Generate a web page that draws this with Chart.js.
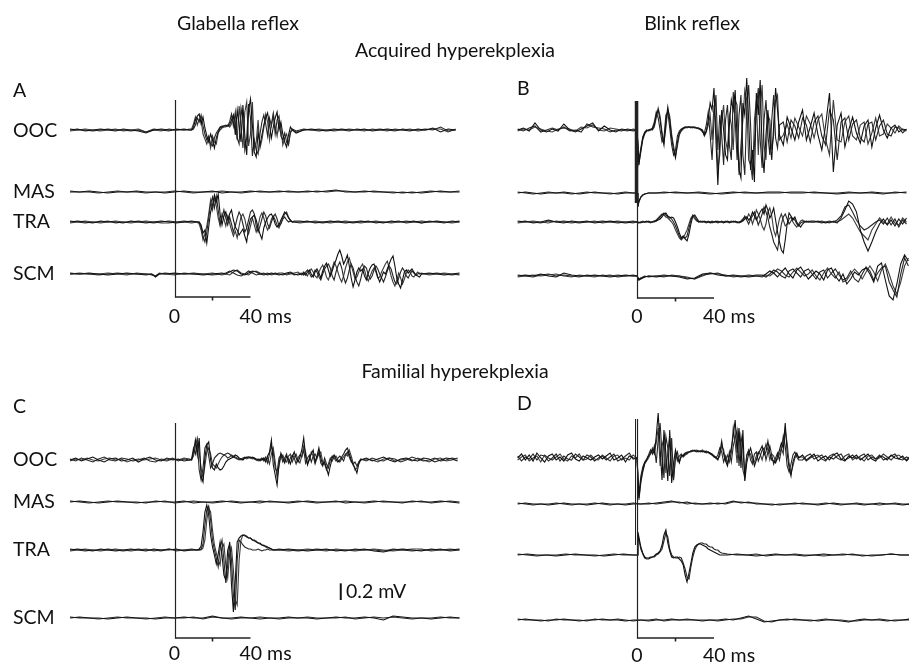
<!DOCTYPE html>
<html>
<head>
<meta charset="utf-8">
<script src="https://cdn.jsdelivr.net/npm/chart.js@4"></script>
<style>
html, body { margin: 0; padding: 0; background: #fff; }
#wrap { position: relative; width: 909px; height: 669px; overflow: hidden; background: #fff; }
canvas, svg { position: absolute; left: 0; top: 0; }
text { font-family: Lato, 'Open Sans', sans-serif; font-size: 19.5px; fill: #111; }
</style>
</head>
<body>
<div id="wrap">
  <canvas id="pA" width="909" height="669"></canvas>
  <canvas id="pB" width="909" height="669"></canvas>
  <canvas id="pC" width="909" height="669"></canvas>
  <canvas id="pD" width="909" height="669"></canvas>
  <svg id="labels" width="909" height="669"></svg>
</div>
<script>
// vertical gain of the traces: 12 µV per pixel (0.2 mV ~ 17 px)
const UV_PER_PX = 12;

// sample times (ms), regular within each segment
function seg(a, b, step) {
  const out = [];
  for (let t = a; t <= b + 1e-9; t += step) out.push(t);
  return out;
}

// ---------- A: glabella reflex, acquired (values in µV, 3 sweeps) ----------
const tA_ooc = [...seg(-55, 5, 4), 8, ...seg(9, 62, 1), ...seg(64, 148, 4)];
const A_OOC = [
  [0,12,-12,0,12,0,-12,12,0,-12,-36,0,12,0,0,12,0,
   0,36,120,168,192,72,156,24,-72,-144,-48,-120,-216,-96,-24,24,36,48,48,48,60,120,180,-60,240,60,-144,300,-60,-300,240,372,60,-264,-324,-24,-180,-60,60,144,204,60,-96,36,144,216,0,96,-48,-144,-204,-60,36,0,
   -36,0,12,0,-12,0,12,0,0,12,-12,0,12,0,0,-12,12,0,24,-24,12,0],
  [12,0,0,-12,0,12,0,0,-12,0,-24,12,0,-12,12,0,0,
   0,12,60,144,96,180,48,-48,-120,-72,-168,-192,-96,-36,0,36,48,48,60,48,96,192,48,216,-96,-168,264,120,-240,-96,312,144,-312,-120,-240,-288,-48,96,180,72,-72,144,48,180,-48,120,168,-72,-120,-36,-144,-180,-24,12,
   -12,12,0,-12,0,12,0,-12,12,0,0,12,0,-12,12,0,0,12,0,36,-12,0],
  [-12,0,12,0,-12,0,12,-12,0,12,-24,0,-12,12,0,0,12,
   12,72,156,60,132,120,-48,-108,-168,-96,-216,-72,-144,-168,-36,0,24,36,36,60,36,72,168,96,-120,288,48,-216,216,336,-192,-48,336,-216,-144,120,-216,-120,24,192,96,-120,72,204,48,-72,96,24,-180,-96,-48,-168,-36,0,
   -24,0,0,12,0,-12,0,12,0,-12,12,0,-12,12,0,12,-12,0,12,12,-24,12]
];
const tA_mas = seg(-55, 150, 5);
const A_MAS = [
  [0,0,12,0,-12,0,0,12,0,0,-12,0,12,0,0,12,-12,0,0,12,0,0,12,0,0,12,0,12,24,0,0,12,0,0,0,-12,0,-12,0,12,0,0],
  [12,0,0,-12,0,12,0,0,-12,0,0,12,0,-12,0,0,12,0,-12,0,12,0,0,12,0,0,12,0,12,12,0,0,12,0,-12,0,-12,0,12,0,0,12]
];
const tA_tra = [...seg(-55, 9, 4), 12, ...seg(13, 63, 1), ...seg(66, 150, 4)];
const A_TRA = [
  [0,12,0,-12,12,0,0,-12,12,0,-12,0,12,0,-12,0,12,0,
   0,-36,-132,-96,-252,-60,120,204,324,240,336,96,-36,72,120,24,96,144,24,-60,-96,-156,-120,-84,-168,-240,-60,36,60,84,24,-72,-144,-204,-72,0,48,84,96,48,-24,-60,-36,24,72,120,96,48,24,0,0,
   0,12,-12,0,12,0,-12,0,12,0,0,-12,12,0,0,12,-12,0,12,0,0,12],
  [12,0,-12,0,0,12,-12,0,0,12,0,-12,0,12,0,12,0,0,
   0,-60,-168,-240,-120,48,216,300,168,312,144,-24,48,144,48,-36,60,-24,-120,-48,48,120,72,-24,-120,-72,24,120,144,96,-48,-120,-48,36,120,72,-24,-72,0,60,96,36,-48,-24,36,60,24,0,12,0,12,
   12,0,0,-12,0,12,0,-12,0,12,-12,0,0,12,-12,0,12,0,0,-12,12,0],
  [-12,0,12,0,-12,0,12,0,-12,0,12,0,-12,-12,0,0,-12,0,
   -24,-96,-216,-144,-48,96,264,144,288,192,48,-48,96,36,-48,72,-12,-96,-168,-108,-192,-48,60,96,36,-72,-144,-48,48,-36,-120,-48,60,108,48,-36,-96,-48,36,72,24,-36,-72,-12,48,96,120,60,12,0,0,
   -12,0,12,0,-12,0,12,0,-12,0,12,0,-12,0,12,0,-12,12,0,0,-12,0]
];
const tA_scm = [-55,-50,-45,-40,-35,-30,-25,-20,-15,-12,-10,-8,-5,0,5,10,15,20,25,
  ...seg(27, 65, 2), ...seg(67, 130, 1), ...seg(134, 150, 4)];
const A_SCM = [
  [0,0,12,0,-12,0,12,0,0,0,-36,0,0,12,0,0,-12,0,12,
   0,24,48,36,0,-12,12,36,24,0,-12,0,12,0,-12,0,12,24,0,-12,
   0,12,-12,24,48,0,-36,24,60,12,-48,36,96,132,48,-24,36,108,168,240,288,216,120,168,228,96,-48,-156,-72,24,72,36,60,-24,-72,12,72,108,120,48,-36,-96,-36,24,0,60,120,180,216,96,-48,-120,-168,-72,24,48,12,36,60,24,-12,-24,-36,0,
   12,0,-12,0,12],
  [12,0,0,-12,0,12,0,0,-12,0,-24,0,12,0,0,12,0,-12,0,
   12,36,12,-12,-24,0,36,12,-12,0,12,-12,0,12,0,-12,0,12,-12,0,
   12,-12,24,48,12,-36,-12,48,24,-36,-72,0,60,96,120,72,-24,-72,24,96,144,72,-36,-108,-48,48,120,72,-24,-96,-144,-60,36,96,72,-12,-60,-24,48,96,60,0,-48,-96,-36,36,96,60,-24,-96,-120,-48,24,72,36,-24,-48,0,36,12,-12,0,12,0,
   0,12,0,-12,0],
  [0,12,0,0,12,0,-12,12,0,-12,-24,12,0,-12,12,0,0,12,-12,
   0,-12,24,48,12,0,-12,24,36,12,0,12,-12,0,12,12,-12,0,12,24,
   -12,24,0,-24,36,60,24,-24,-48,24,72,108,48,-36,-72,0,72,144,96,24,-48,-96,-24,72,144,192,108,24,-60,-36,24,84,120,48,-36,-84,-24,36,72,24,-48,-36,24,72,120,156,72,-24,-96,-144,-72,12,-48,-120,-60,12,48,24,-24,-36,0,24,0,12,
   -12,0,12,0,-12]
];

// ---------- B: blink reflex, acquired ----------
const tB_ooc = [...seg(-62, -2, 3), 0, ...seg(1, 74, 1), ...seg(76, 140, 2)];
const B_OOC = [
  [0,24,-12,84,0,-24,12,-12,72,0,-24,12,48,84,-12,48,0,-24,12,0,-12, 0,
   -420,-240,-96,-36,-12,0,0,12,60,180,240,120,-60,-180,96,276,120,-96,-240,-336,-144,-36,0,24,36,36,36,36,36,24,24,24,12,0,-60,-12,120,324,240,504,-120,-660,-120,240,0,-300,-360,60,360,240,480,-120,-480,-576,324,180,624,120,-480,-240,-624,444,180,600,-240,-516,-60,240,-120,-360,60,504,240,-60,
   -180,156,24,-120,96,240,-120,36,204,-60,-240,60,444,-504,60,204,-204,0,156,-36,-156,48,120,-204,24,180,0,-96,24,60,-24,12,0],
  [12,-12,24,48,-24,0,24,0,36,-12,0,-24,72,36,24,12,-24,0,-12,12,0, 0,
   -360,-216,-84,-24,0,-12,0,24,96,216,144,0,-144,-96,180,216,24,-180,-300,-240,-72,-12,12,24,24,36,36,24,36,36,24,12,12,-24,-36,60,216,-60,-360,120,420,-240,180,-60,-420,120,300,-180,-360,456,120,-360,180,420,-300,-540,240,540,60,-540,-180,240,504,-120,-456,120,360,-60,-300,120,420,-96,-216,60,
   96,-144,120,48,-96,144,60,-144,96,168,-72,-180,240,120,-360,96,144,-120,72,120,-96,-144,72,96,-120,48,120,-48,-72,36,24,-36,12],
  [-12,12,0,36,12,-12,-24,12,24,12,-12,36,24,60,0,-12,24,12,0,-12,12, 0,
   -396,-264,-120,-48,-12,0,12,0,36,144,264,168,-24,-144,24,240,168,-48,-192,-312,-192,-60,-12,12,36,24,36,36,24,36,24,24,0,-12,-72,-24,60,180,-120,300,60,-480,-300,120,300,-120,-240,180,60,-240,360,300,-540,-180,120,480,360,-360,-420,-600,120,360,-300,240,540,-180,-360,180,120,-240,-60,360,420,-120,
   -60,72,-96,144,36,-72,168,72,-96,120,192,-120,-300,360,-120,-144,96,168,-72,-120,60,96,-168,-36,144,-72,-48,72,24,-36,48,0,-12]
];
const tB_mas = [...seg(-62, -2, 4), 0, 0.5, 1, 2, 3, 4, 6, 8, 10, ...seg(14, 140, 6)];
const B_MAS = [
  [0,12,0,-12,0,0,12,0,-12,0,12,0,0,-12,0,0,
   0,-168,-108,-48,-24,-12,0,0,0,
   0,12,0,0,-12,0,12,0,0,12,12,0,0,12,0,-12,0,0,12,0,0,12],
  [12,0,-12,0,12,0,0,-12,0,12,0,0,-12,0,12,0,
   0,-156,-96,-48,-24,-12,0,0,0,
   12,0,0,12,0,-12,0,12,0,0,0,12,12,0,0,0,12,0,0,-12,12,0]
];
const tB_tra = [...seg(-62, -2, 4), 0, ...seg(1, 90, 1), ...seg(92, 140, 2)];
const B_TRA = [
  [0,12,-12,0,24,0,-12,12,0,12,-12,0,12,0,-12,0, 0,
   -12,0,0,0,12,0,0,0,12,12,24,36,60,96,108,72,48,60,48,0,-60,-132,-192,-168,-204,-228,-144,-24,72,84,48,12,0,0,12,0,0,-12,0,0,12,0,0,0,-12,0,12,0,0,0,12,0,-12,0,12,36,60,24,48,120,72,24,72,120,156,96,204,144,48,96,168,24,-120,-240,-336,-372,-216,-24,108,72,24,60,0,-36,-60,-24,0,12,0,0,
   0,12,0,-12,0,0,-12,48,144,252,216,120,-96,-240,-348,-240,-120,-24,36,-36,24,-48,36,-24,48],
  [12,0,0,-12,12,0,12,0,-12,0,0,12,0,-12,0,12, 0,
   0,-12,0,0,0,12,0,0,0,12,36,60,84,108,84,60,60,36,0,-48,-108,-168,-204,-180,-192,-168,-72,24,84,60,24,0,12,0,0,-12,0,0,12,0,0,-12,0,12,0,0,0,-12,0,12,0,0,0,12,36,60,24,-24,36,72,120,48,-36,24,96,180,120,48,-60,-144,-240,-288,-336,-180,-24,60,96,36,-24,12,48,24,-24,-48,-12,0,12,0,0,12,
   12,0,-12,0,12,0,24,72,180,204,120,24,-48,-96,-72,-36,0,24,-24,48,-36,36,-60,24,-24],
  [-12,0,12,0,-12,12,0,-12,0,0,12,-12,0,12,0,-12, 0,
   -12,0,12,0,0,0,-12,0,12,24,48,72,96,84,60,48,24,0,-36,-96,-144,-192,-216,-192,-144,-96,-24,48,72,36,12,0,0,12,0,0,12,0,-12,0,0,12,0,0,0,12,0,0,12,0,0,-12,0,0,24,72,36,96,60,-24,48,144,96,36,-48,-96,-24,120,168,72,-96,-168,-72,36,96,24,-48,-24,36,60,0,-36,-60,-24,12,24,0,0,12,0,
   0,0,12,0,-12,12,0,24,60,96,48,-36,-120,-168,-216,-96,-24,48,0,-24,60,-12,-36,48,0]
];
const tB_scm = [...seg(-62, -2, 4), 0, 1, 2, 4, ...seg(6, 62, 4), ...seg(65, 141, 2)];
const B_SCM = [
  [0,12,0,24,0,-12,36,12,0,0,12,0,-12,0,12,0,
   0,-48,-36,-12,
   0,-12,0,0,-12,-36,-24,24,36,12,0,12,0,-12,0,
   0,24,60,36,-12,48,96,24,-24,72,108,36,-36,12,60,24,-48,72,96,0,-60,24,-96,-36,48,12,72,96,24,-72,120,156,-48,-240,-288,-96,144,252,180],
  [12,0,-12,12,24,0,12,0,-12,12,0,0,12,-12,0,12,
   0,-36,-24,0,
   -12,0,12,0,0,-24,-36,12,24,36,0,0,-12,0,12,
   12,-12,24,72,48,0,-24,60,84,36,-12,60,84,24,-36,48,72,-24,36,84,12,-48,-24,60,-36,-72,24,108,60,-48,36,96,120,-72,-168,-252,24,216,120],
  [-12,0,12,0,12,24,0,-12,12,0,-12,12,0,12,0,0,
   0,-48,-24,-12,
   0,0,-12,12,0,-12,-36,0,36,24,12,-12,0,12,0,
   -12,12,0,36,84,60,12,-12,48,96,48,0,24,72,0,-48,36,96,24,-24,48,-72,-48,24,84,36,-36,48,120,48,-60,72,144,24,-120,-216,-72,120,216]
];

// ---------- C: glabella reflex, familial ----------
const tC_ooc = [...seg(-55, 8, 3), ...seg(9, 98, 1), ...seg(101, 149, 3)];
const C_OOC = [
  [0,24,-12,12,36,0,-24,12,24,-12,0,24,-24,12,36,0,-12,24,0,12,-12,0,
   0,96,240,60,264,-204,-264,24,180,216,0,-96,-120,-48,-96,-120,-108,-72,-24,0,12,24,36,60,48,24,12,0,24,36,36,24,36,24,12,0,12,0,24,-24,48,96,240,-60,-180,-300,-48,84,24,-36,48,12,-48,36,96,24,-24,36,120,264,48,-60,24,72,120,-24,48,144,24,-60,-24,-96,-180,-72,24,60,12,-24,0,36,72,120,144,72,0,-60,-96,-156,-48,0,
   24,-12,12,36,0,-24,12,24,0,-12,24,12,-24,0,24,12,-12],
  [12,-12,24,0,-24,12,36,0,-12,24,12,-12,0,24,-12,-24,12,0,24,-12,12,0,
   12,144,72,216,-120,-240,-96,144,192,48,-96,-48,24,48,72,84,72,60,72,84,72,48,36,24,12,0,12,24,36,24,36,36,24,12,0,12,-12,12,0,36,-36,72,168,96,-96,-144,24,60,-24,24,72,-36,24,60,24,-48,24,60,36,120,-36,24,60,-24,48,72,24,96,-36,-72,24,-48,-96,0,48,24,-12,24,48,24,-12,60,96,36,-24,-48,-24,-72,-24,12,
   -12,24,0,-12,24,12,-24,0,36,12,-12,0,24,-12,0,24,12],
  [-12,12,0,24,0,-12,12,24,0,12,-24,0,12,0,12,24,0,-12,12,0,24,12,
   0,48,168,264,96,-96,-216,-72,96,144,72,-48,-72,-96,-48,0,36,60,48,24,36,60,48,36,24,12,0,12,24,12,24,24,12,24,0,-12,0,24,-12,12,24,-48,72,144,-24,-216,-72,36,60,0,-24,48,72,-24,36,72,0,-36,48,168,96,-48,0,96,48,-48,24,72,96,-24,-48,-120,-48,24,-12,36,48,0,-24,12,36,72,48,120,48,-36,-120,-96,-24,0,
   12,0,-24,12,24,-12,0,12,-12,24,0,-24,12,24,-12,0,24]
];
const tC_mas = seg(-55, 150, 5);
const C_MAS = [
  [0,12,0,-12,0,12,0,0,-12,12,0,0,12,-12,0,0,12,0,-12,0,12,0,0,-12,0,12,0,0,12,-12,0,0,12,0,0,-12,12,0,0,12,0,-12],
  [12,0,-12,0,12,0,0,-12,0,0,12,-12,0,12,0,-12,0,12,0,0,-12,12,0,0,12,0,-12,0,0,12,0,-12,0,12,0,0,0,12,-12,0,12,0]
];
const tC_tra = [...seg(-55, 9, 4), ...seg(12, 52, 1), ...seg(55, 150, 5)];
const C_TRA = [
  [0,12,0,-12,12,0,-12,0,12,0,-12,12,0,0,12,-12,0,
   0,12,48,216,456,540,420,180,36,-60,-168,-48,96,-60,-300,-360,0,72,-420,-744,-360,96,144,168,180,180,156,144,144,120,120,96,84,84,60,48,48,36,24,12,0,
   0,12,0,-12,0,12,-12,0,0,12,-12,-24,0,12,0,-12,12,0,0,12],
  [12,0,-12,0,0,12,0,-12,0,12,0,0,-12,12,0,0,12,
   0,0,12,72,300,480,528,360,120,0,-96,-204,24,120,-120,-396,-180,96,-120,-540,-720,-120,120,96,60,36,24,12,12,0,0,0,12,0,-12,0,0,12,0,0,0,
   12,0,-12,0,12,0,0,-12,12,0,0,-12,12,0,-12,0,0,12,-12,0],
  [-12,0,12,0,-12,0,12,0,-12,0,12,-12,0,12,-12,0,0,
   0,0,0,24,120,360,504,456,240,60,-36,-120,-180,24,72,-180,-336,-60,24,-240,-600,-660,-120,120,180,168,168,144,144,120,108,108,84,72,60,60,36,24,24,12,0,
   0,-12,0,12,0,-12,12,0,-12,0,12,0,-12,0,12,12,-12,0,12,0]
];
const tC_scm = seg(-55, 150, 5);
const C_SCM = [
  [0,12,0,0,-12,0,12,0,0,-12,0,0,12,0,0,24,0,0,12,0,-12,0,0,12,0,0,-12,0,12,0,0,12,0,-24,24,12,0,0,-12,0,12,0],
  [12,0,0,-12,0,12,0,0,-12,0,12,0,0,12,-12,12,0,-12,0,0,12,0,-12,0,0,12,0,0,0,12,-12,0,12,0,12,0,-12,0,0,12,0,0]
];

// ---------- D: blink reflex, familial ----------
const tD_ooc = [...seg(-62, -2, 2), 0, ...seg(1, 84, 1), ...seg(86, 142, 2)];
const D_OOC = [
  [0,48,-24,36,-36,60,0,-48,24,48,-24,12,-36,36,60,-12,-36,24,0,-24,12,36,-12,24,60,-24,0,36,-48,24,0, 0,
   -480,-264,-144,-60,-24,24,60,96,48,264,540,120,-264,336,60,-276,336,-300,-60,96,0,-60,36,24,48,60,72,84,84,84,72,84,84,72,84,72,72,60,48,24,0,-24,60,204,48,-36,-96,24,120,264,456,60,360,-120,336,-276,-60,48,120,24,-96,-24,48,96,144,36,72,204,60,-24,-36,-60,24,96,180,120,420,60,-120,-216,-48,24,60,0,
   36,-24,12,48,-36,0,24,-24,36,60,-12,-36,24,0,36,-24,12,48,-12,-36,24,12,-24,36,0,-12,24,-36,12],
  [24,-36,12,-12,48,-24,36,24,-36,0,48,-36,24,-12,-24,48,12,-24,36,12,-36,0,24,-24,12,48,-36,-12,24,60,-12, 0,
   -432,-216,-108,-48,-12,36,96,48,144,-60,216,420,60,-240,264,120,-216,240,-264,0,72,-36,12,36,60,72,72,84,96,84,96,84,72,84,72,60,72,48,36,12,0,36,120,72,-48,24,-72,72,-48,144,240,336,-96,264,120,-216,36,96,-24,-72,48,72,-36,24,96,120,-24,72,144,36,-72,0,60,-24,96,264,144,-96,-168,-72,36,72,12,-24,
   -24,24,48,-12,12,36,-24,12,-12,24,48,-24,0,36,-12,24,48,-24,12,-12,36,-24,0,24,48,-12,-24,12,-12],
  [-24,12,36,-36,0,24,-48,36,0,-24,12,48,-12,-36,24,0,48,-24,-12,36,-12,-24,36,0,-36,24,36,-24,0,-24,36, 0,
   -504,-300,-168,-72,-36,0,48,120,72,180,360,-96,144,240,-180,72,264,-120,-240,48,-36,24,48,12,36,48,72,72,84,96,84,72,84,96,72,84,60,60,36,24,12,-12,24,144,96,-24,36,-48,60,360,180,-60,300,168,-144,-240,24,72,48,-36,-48,24,72,48,-24,72,168,96,-24,48,24,-48,-12,48,120,48,336,180,-60,-180,-96,0,36,12,
   12,-36,0,24,36,-12,-36,24,48,0,-24,24,48,-24,12,0,-36,24,36,-12,0,48,12,-24,24,36,0,-24,24]
];
const tD_mas = seg(-62, 142, 4);
const D_MAS = [
  [0,12,0,0,-12,0,12,0,0,-12,0,12,0,0,-12,0,0,0,12,24,36,12,24,0,0,12,0,12,36,12,24,0,0,-12,0,0,12,0,0,-12,0,12,0,0,0,-12,0,12,0,0,-12,0],
  [12,0,-12,0,0,12,0,-12,0,0,12,0,-12,0,0,12,0,12,0,12,24,24,0,12,0,0,12,0,24,24,12,12,0,0,-12,0,0,12,0,0,12,0,-12,0,12,0,0,-12,0,12,0,0]
];
const tD_tra = [...seg(-62, -2, 5), 0, 0.5, 1, 2, 3, 4, ...seg(5, 44, 1), ...seg(47, 142, 5)];
const D_TRA = [
  [0,12,0,0,-12,0,12,0,0,-12,0,12,0,
   0,276,216,96,24,-24,
   -36,-36,-24,-24,-12,12,24,48,120,240,300,144,48,-24,-36,-24,-24,-48,-72,-120,-240,-324,-216,-96,24,96,120,132,132,120,108,96,72,60,48,36,24,12,0,0,
   0,12,0,-12,0,12,0,0,-12,0,12,0,0,12,-12,0,0,12,0,0],
  [12,0,-12,0,0,12,0,0,-12,0,12,0,0,
   0,252,180,72,12,-36,
   -48,-48,-36,-24,-24,0,12,36,72,168,264,216,72,0,-24,-36,-36,-24,-36,-96,-168,-264,-288,-144,-24,60,108,132,144,144,132,132,108,96,96,72,60,60,36,24,
   12,0,0,12,-12,0,0,12,0,0,-12,0,12,0,0,-12,0,12,0,0]
];
const tD_scm = seg(-62, 142, 4);
const D_SCM = [
  [0,12,0,-12,0,0,12,0,-12,0,0,12,0,0,-12,0,0,-12,0,0,12,0,0,0,-12,0,0,12,0,24,48,12,-24,-12,0,0,12,0,0,-12,0,0,-12,-24,0,12,0,0,-12,0,0,12],
  [12,0,0,0,-12,12,0,0,0,-12,12,0,0,12,0,-12,0,0,12,-12,0,0,12,0,0,0,-12,0,12,12,36,36,-12,-24,0,12,0,0,-12,0,12,0,0,-12,-12,0,0,12,0,-12,0,0]
];

// ---------- layout of the four panels (pixels) ----------
const SWEEP_COLORS = ['#111111', '#262626', '#3c3c3c'];
const panels = [
  { id: 'pA', t0: 174.5, pxPerMs: 1.9,
    channels: [
      { t: tA_ooc, sweeps: A_OOC, base: 130 },
      { t: tA_mas, sweeps: A_MAS, base: 192 },
      { t: tA_tra, sweeps: A_TRA, base: 222 },
      { t: tA_scm, sweeps: A_SCM, base: 274 }],
    marks: { axisTop: 100, bar: 297, labelY: 323 } },
  { id: 'pB', t0: 637, pxPerMs: 1.925,
    channels: [
      { t: tB_ooc, sweeps: B_OOC, base: 130 },
      { t: tB_mas, sweeps: B_MAS, base: 193 },
      { t: tB_tra, sweeps: B_TRA, base: 222 },
      { t: tB_scm, sweeps: B_SCM, base: 276 }],
    marks: { axisTop: 101, bar: 298, labelY: 323, thickTo: 203 } },
  { id: 'pC', t0: 174.5, pxPerMs: 1.9,
    channels: [
      { t: tC_ooc, sweeps: C_OOC, base: 460 },
      { t: tC_mas, sweeps: C_MAS, base: 502 },
      { t: tC_tra, sweeps: C_TRA, base: 550 },
      { t: tC_scm, sweeps: C_SCM, base: 618 }],
    marks: { axisTop: 423, bar: 638, labelY: 660, cal: { t: 87.5, bottom: 600, uv: 200 } } },
  { id: 'pD', t0: 637, pxPerMs: 1.925,
    channels: [
      { t: tD_ooc, sweeps: D_OOC, base: 458 },
      { t: tD_mas, sweeps: D_MAS, base: 504 },
      { t: tD_tra, sweeps: D_TRA, base: 555 },
      { t: tD_scm, sweeps: D_SCM, base: 620 }],
    marks: { axisTop: 419, bar: 638, labelY: 662, doubleTo: 545 } }
];

// time-zero line, 40 ms bar and the 0.2 mV calibration, placed through the scales
const axisMarks = {
  id: 'axisMarks',
  afterDatasetsDraw(chart, args, m) {
    const { ctx } = chart;
    const xs = chart.scales.x, ys = chart.scales.y;
    const x0 = Math.round(xs.getPixelForValue(0)) + 0.5;
    const x40 = xs.getPixelForValue(40), x20 = xs.getPixelForValue(20);
    ctx.save();
    ctx.strokeStyle = '#222';
    ctx.lineCap = 'butt';
    if (m.thickTo) {
      ctx.lineWidth = 3.5;
      ctx.beginPath(); ctx.moveTo(x0 - 1, m.axisTop); ctx.lineTo(x0 - 1, m.thickTo); ctx.stroke();
    }
    if (m.doubleTo) {
      ctx.lineWidth = 1;
      ctx.beginPath(); ctx.moveTo(x0 - 2, m.axisTop); ctx.lineTo(x0 - 2, m.doubleTo); ctx.stroke();
    }
    ctx.lineWidth = 1.2;
    ctx.beginPath(); ctx.moveTo(x0, m.axisTop); ctx.lineTo(x0, m.bar + 0.75); ctx.stroke();
    ctx.lineWidth = 1.6;
    ctx.beginPath(); ctx.moveTo(x0, m.bar); ctx.lineTo(x40, m.bar); ctx.stroke();
    ctx.beginPath(); ctx.moveTo(x20, m.bar); ctx.lineTo(x20, m.bar + 3.5); ctx.stroke();
    if (m.cal) {
      const xc = xs.getPixelForValue(m.cal.t);
      const yb = -m.cal.bottom * UV_PER_PX;
      ctx.lineWidth = 2;
      ctx.strokeStyle = '#111';
      ctx.beginPath();
      ctx.moveTo(xc, ys.getPixelForValue(yb));
      ctx.lineTo(xc, ys.getPixelForValue(yb + m.cal.uv));
      ctx.stroke();
    }
    ctx.restore();
  }
};

function makePanel(p) {
  const datasets = [];
  p.channels.forEach(ch => {
    const off = -ch.base * UV_PER_PX;
    ch.sweeps.forEach((vals, k) => {
      if (vals.length !== ch.t.length) console.warn(p.id, 'length mismatch', vals.length, ch.t.length);
      const n = Math.min(vals.length, ch.t.length);
      const pts = [];
      for (let i = 0; i < n; i++) pts.push({ x: ch.t[i], y: off + vals[i] });
      datasets.push({
        data: pts, borderColor: SWEEP_COLORS[k % 3], borderWidth: 1.1,
        pointRadius: 0, tension: 0, fill: false
      });
    });
  });
  return new Chart(document.getElementById(p.id), {
    type: 'line',
    data: { datasets },
    options: {
      responsive: false, animation: false, devicePixelRatio: 1, events: [],
      layout: { padding: 0 },
      scales: {
        x: { type: 'linear', display: false, min: -p.t0 / p.pxPerMs, max: (909 - p.t0) / p.pxPerMs },
        y: { type: 'linear', display: false, min: -669 * UV_PER_PX, max: 0 }
      },
      plugins: { legend: { display: false }, tooltip: { enabled: false }, axisMarks: p.marks }
    },
    plugins: [axisMarks]
  });
}

const svg = document.getElementById('labels');
function addText(str, x, y, anchor) {
  const el = document.createElementNS('http://www.w3.org/2000/svg', 'text');
  el.setAttribute('x', x);
  el.setAttribute('y', y);
  el.setAttribute('text-anchor', anchor || 'start');
  el.textContent = str;
  svg.appendChild(el);
  return el;
}

panels.forEach(p => {
  const chart = makePanel(p);
  const xs = chart.scales.x;
  addText('0', xs.getPixelForValue(0), p.marks.labelY, 'middle');
  addText('40 ms', xs.getPixelForValue(40) - 11, p.marks.labelY, 'start');
});

// headings, panel letters, muscle names
addText('Glabella reflex', 238, 30, 'middle');
addText('Blink reflex', 692, 30, 'middle');
addText('Acquired hyperekplexia', 455, 57, 'middle');
addText('Familial hyperekplexia', 455, 378, 'middle');
addText('A', 13, 97); addText('B', 517, 95); addText('C', 13, 413); addText('D', 517, 410);
const rowNames = ['OOC', 'MAS', 'TRA', 'SCM'];
[137, 198, 228, 280].forEach((y, i) => addText(rowNames[i], 13, y));
[466, 508, 556, 624].forEach((y, i) => addText(rowNames[i], 13, y));
addText('0.2 mV', 346, 598);
</script>
</body>
</html>
